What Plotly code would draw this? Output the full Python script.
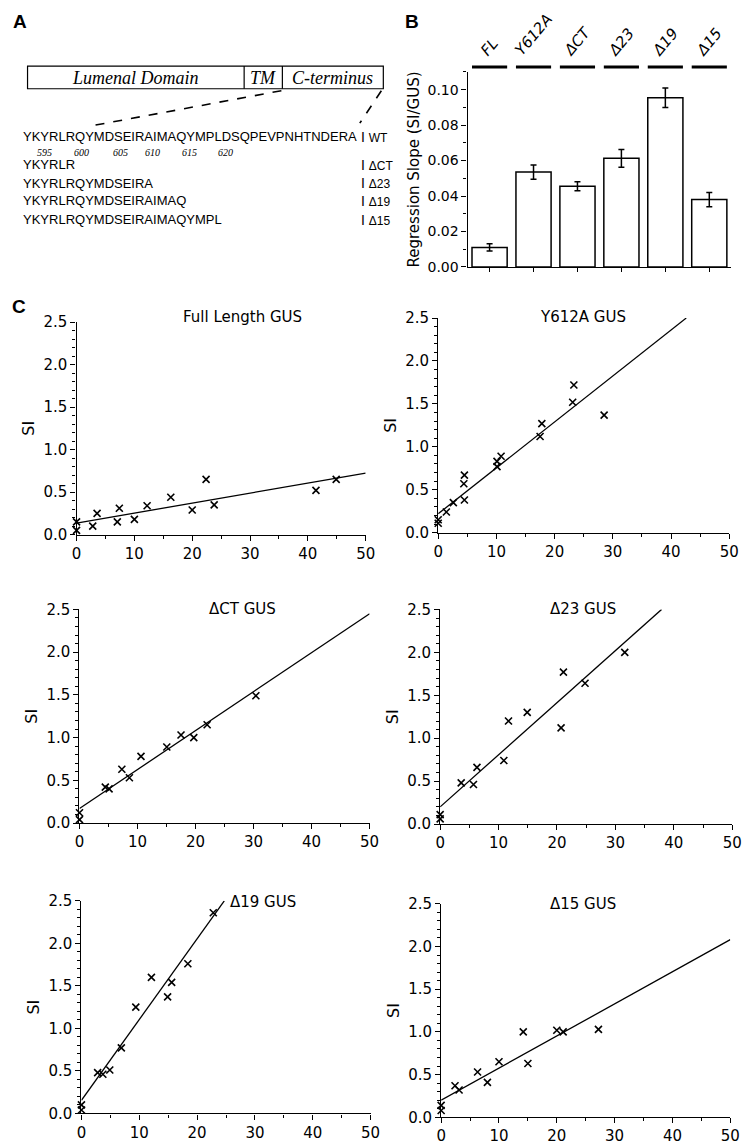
import plotly.graph_objects as go

W, H = 754, 1148

# ---------------- data ----------------
# Panel A
domain_names = ["Lumenal Domain", "TM", "C-terminus"]
construct_labels = ["WT", "ΔCT", "Δ23", "Δ19", "Δ15"]
construct_seqs = [
    "YKYRLRQYMDSEIRAIMAQYMPLDSQPEVPNHTNDERA",
    "YKYRLR",
    "YKYRLRQYMDSEIRA",
    "YKYRLRQYMDSEIRAIMAQ",
    "YKYRLRQYMDSEIRAIMAQYMPL",
]
residue_numbers = ["595", "600", "605", "610", "615", "620"]

# Panel B
bar_labels = ["FL", "Y612A", "ΔCT", "Δ23", "Δ19", "Δ15"]
bar_values = [0.011, 0.0535, 0.0455, 0.0613, 0.0955, 0.038]
bar_errors = [0.002, 0.004, 0.0025, 0.005, 0.0055, 0.004]

# Panel C
panel_titles = ["Full Length GUS", "Y612A GUS", "ΔCT GUS", "Δ23 GUS", "Δ19 GUS", "Δ15 GUS"]

fl_x = [0, 0, 2.8, 3.55, 7.05, 7.4, 10.0, 12.2, 16.3, 20.0, 22.4, 23.8, 41.4, 44.9]
fl_y = [0.15, 0.05, 0.10, 0.25, 0.15, 0.31, 0.18, 0.34, 0.44, 0.29, 0.65, 0.35, 0.52, 0.65]
fl_fit_x = [0, 50]
fl_fit_y = [0.135, 0.724]

y612a_x = [0, 0, 1.4, 2.6, 4.5, 4.4, 4.5, 10.1, 10.1, 10.8, 17.5, 17.8, 23.1, 23.3, 28.5]
y612a_y = [0.15, 0.11, 0.24, 0.35, 0.38, 0.57, 0.67, 0.77, 0.83, 0.89, 1.12, 1.27, 1.52, 1.72, 1.37]
y612a_fit_x = [0, 42.6]
y612a_fit_y = [0.22, 2.5]

dct_x = [0, 0, 4.45, 5.1, 7.3, 8.6, 10.6, 15.05, 17.5, 19.7, 22.0, 30.4]
dct_y = [0.12, 0.04, 0.42, 0.40, 0.63, 0.53, 0.78, 0.89, 1.03, 1.00, 1.15, 1.49]
dct_fit_x = [0, 50]
dct_fit_y = [0.17, 2.45]

d23_x = [0, 0, 3.6, 5.7, 6.3, 10.9, 11.7, 14.9, 20.7, 21.1, 24.8, 31.6]
d23_y = [0.11, 0.06, 0.48, 0.46, 0.66, 0.74, 1.20, 1.30, 1.12, 1.77, 1.64, 2.00]
d23_fit_x = [0, 37.9]
d23_fit_y = [0.20, 2.5]

d19_x = [0, 0, 2.8, 3.7, 4.9, 6.9, 9.4, 12.1, 14.9, 15.6, 18.4, 22.8]
d19_y = [0.10, 0.04, 0.48, 0.46, 0.51, 0.77, 1.25, 1.60, 1.37, 1.54, 1.76, 2.36]
d19_fit_x = [0, 24.7]
d19_fit_y = [0.154, 2.5]

d15_x = [0, 0, 2.4, 3.1, 6.3, 8.0, 10.0, 14.2, 15.0, 20.0, 21.1, 27.2]
d15_y = [0.14, 0.08, 0.37, 0.32, 0.53, 0.41, 0.65, 1.00, 0.63, 1.02, 1.00, 1.03]
d15_fit_x = [0, 50]
d15_fit_y = [0.20, 2.08]

scatter_sets = [
    (fl_x, fl_y, fl_fit_x, fl_fit_y),
    (y612a_x, y612a_y, y612a_fit_x, y612a_fit_y),
    (dct_x, dct_y, dct_fit_x, dct_fit_y),
    (d23_x, d23_y, d23_fit_x, d23_fit_y),
    (d19_x, d19_y, d19_fit_x, d19_fit_y),
    (d15_x, d15_y, d15_fit_x, d15_fit_y),
]

# ---------------- helpers ----------------
def X(px):
    return px / W

def Y(py):
    return 1 - py / H

SANS = "DejaVu Sans"
SEQ = "Liberation Sans"
SERIF = "Liberation Serif"

fig = go.Figure()
annotations = []
shapes = []

# ---------------- Panel B: bars ----------------
fig.add_trace(go.Bar(
    x=bar_labels, y=bar_values,
    error_y=dict(type="data", array=bar_errors, color="black", thickness=1.5, width=3),
    marker=dict(color="white", line=dict(color="black", width=1.5)),
    xaxis="x", yaxis="y", showlegend=False,
))

axis_common = dict(showline=True, linecolor="black", linewidth=1.3, showgrid=False,
                   zeroline=False, ticks="outside", tickcolor="black", ticklen=5,
                   tickwidth=1.2, tickfont=dict(family=SANS, size=15, color="black"))

bar_axis = dict(axis_common)
bar_axis["tickfont"] = dict(family=SANS, size=14, color="black")

layout = dict(
    width=W, height=H, margin=dict(l=0, r=0, t=0, b=0),
    paper_bgcolor="white", plot_bgcolor="white", showlegend=False,
    bargap=0.2,
    xaxis=dict(domain=[X(472), X(741)], range=[-0.5, 5.5], showticklabels=False,
               showline=True, linecolor="black", linewidth=1.3, ticks="outside",
               ticklen=4, tickcolor="black", anchor="y", showgrid=False),
    yaxis=dict(domain=[Y(262), Y(64)], range=[0, 0.11], tickvals=[0, 0.02, 0.04, 0.06, 0.08, 0.10],
               tickformat=".2f", anchor="x",
               minor=dict(dtick=0.01, ticks="outside", ticklen=3, tickcolor="black"),
               title=dict(text="Regression Slope (SI/GUS)", font=dict(family=SANS, size=15, color="black"),
                          standoff=4),
               **bar_axis),
)

# bar top labels and lines
for i, lab in enumerate(bar_labels):
    shapes.append(dict(type="line", xref="x", yref="paper", x0=i - 0.4, x1=i + 0.4,
                       y0=Y(59), y1=Y(59), line=dict(color="black", width=3)))
    annotations.append(dict(x=i, y=Y(54), xref="x", yref="paper", text=lab, showarrow=False,
                            textangle=-50, xanchor="center", yanchor="bottom",
                            font=dict(family=SANS, size=15, color="black", style="italic")))

# ---------------- Panel C: scatter ----------------
domains = [
    ([73, 368], [318, 534]),
    ([442, 739], [314, 532]),
    ([76, 372], [610, 827]),
    ([444, 742], [610, 828]),
    ([78, 373], [906, 1122]),
    ([445, 740], [909, 1126]),
]
title_pos = [(242, 313), (590, 313), (242, 610), (590, 610), (263, 907), (590, 909)]

for k, ((xs, ys, fx, fy), (dx, dy), title, tp) in enumerate(zip(scatter_sets, domains, panel_titles, title_pos)):
    n = k + 2
    xa, ya = f"x{n}", f"y{n}"
    fig.add_trace(go.Scatter(x=fx, y=fy, mode="lines", line=dict(color="black", width=1.3),
                             xaxis=xa, yaxis=ya, showlegend=False))
    fig.add_trace(go.Scatter(x=xs, y=ys, mode="markers", cliponaxis=False,
                             marker=dict(symbol="x-thin", size=7, color="black",
                                         line=dict(color="black", width=1.6)),
                             xaxis=xa, yaxis=ya, showlegend=False))
    layout[f"xaxis{n}"] = dict(domain=[X(dx[0]), X(dx[1])], range=[0, 50], anchor=ya,
                               dtick=10, minor=dict(dtick=5, ticks="outside", ticklen=3, tickcolor="black"),
                               **axis_common)
    layout[f"yaxis{n}"] = dict(domain=[Y(dy[1]), Y(dy[0])], range=[0, 2.5], anchor=xa,
                               dtick=0.5, tickformat=".1f",
                               minor=dict(dtick=0.1, ticks="outside", ticklen=3, tickcolor="black"),
                               title=dict(text="SI", font=dict(family=SANS, size=16, color="black"), standoff=4),
                               **axis_common)
    annotations.append(dict(x=X(tp[0]), y=Y(tp[1]), xref="paper", yref="paper", text=title,
                            showarrow=False, xanchor="center", yanchor="middle",
                            font=dict(family=SANS, size=15, color="black")))

# ---------------- Panel A: schematic ----------------
shapes.append(dict(type="rect", xref="paper", yref="paper", x0=X(23), x1=X(386), y0=Y(81), y1=Y(58),
                   line=dict(color="black", width=1.2)))
for dvx in (244, 283):
    shapes.append(dict(type="line", xref="paper", yref="paper", x0=X(dvx), x1=X(dvx), y0=Y(81), y1=Y(58),
                       line=dict(color="black", width=1.2)))
for name, cx in zip(domain_names, (133, 263, 334)):
    annotations.append(dict(x=X(cx), y=Y(70), xref="paper", yref="paper", text=name, showarrow=False,
                            xanchor="center", yanchor="middle",
                            font=dict(family=SERIF, size=18, color="black", style="italic")))
shapes.append(dict(type="line", xref="paper", yref="paper", x0=X(282), y0=Y(83), x1=X(92), y1=Y(118),
                   line=dict(color="black", width=1.6, dash="dash")))
shapes.append(dict(type="line", xref="paper", yref="paper", x0=X(384), y0=Y(83), x1=X(362), y1=Y(116),
                   line=dict(color="black", width=1.6, dash="dash")))

row_y = [130, 158, 177, 195, 214]
for seq, lab, ry in zip(construct_seqs, construct_labels, row_y):
    annotations.append(dict(x=X(16), y=Y(ry), xref="paper", yref="paper", text=seq, showarrow=False,
                            xanchor="left", yanchor="middle",
                            font=dict(family=SEQ, size=13, color="black")))
    annotations.append(dict(x=X(361), y=Y(ry), xref="paper", yref="paper",
                            text="I <span style='font-size:12px'>" + lab + "</span>", showarrow=False,
                            xanchor="left", yanchor="middle",
                            font=dict(family=SEQ, size=14, color="black")))
for num, nx in zip(residue_numbers, (40, 78, 118, 150, 188, 225)):
    annotations.append(dict(x=X(nx), y=Y(146), xref="paper", yref="paper", text=num, showarrow=False,
                            xanchor="center", yanchor="middle",
                            font=dict(family=SERIF, size=10, color="black", style="italic")))

# panel letters
for letter, lx, ly in (("A", 15, 13), ("B", 415, 13), ("C", 14, 302)):
    annotations.append(dict(x=X(lx), y=Y(ly), xref="paper", yref="paper", text="<b>" + letter + "</b>",
                            showarrow=False, xanchor="center", yanchor="middle",
                            font=dict(family="Liberation Sans", size=19, color="black")))

layout["annotations"] = annotations
layout["shapes"] = shapes
fig.update_layout(**layout)
fig.write_html("out.html", config={"responsive": False, "displayModeBar": False},
               post_script="document.body.style.margin='0';document.body.style.overflow='hidden';")
